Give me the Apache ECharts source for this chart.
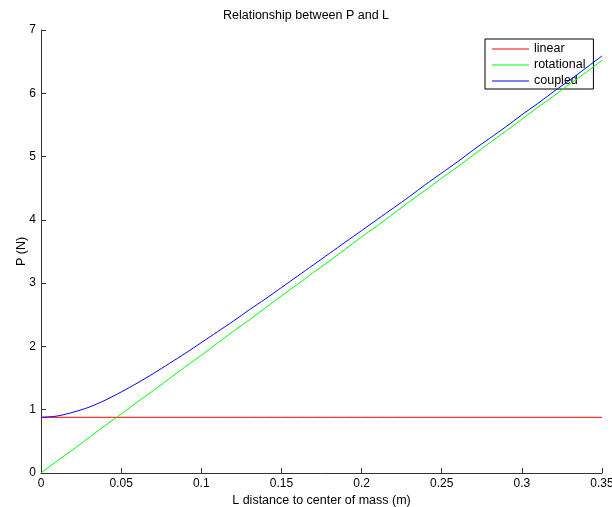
<!DOCTYPE html>
<html>
<head>
<meta charset="utf-8">
<script src="https://cdn.jsdelivr.net/npm/echarts@6/dist/echarts.min.js"></script>
<style>html,body{margin:0;padding:0;background:#fff}#c{width:612px;height:507px}</style>
</head>
<body>
<div id="c"></div>
<script>
const lValues = [0,0.01,0.02,0.03,0.04,0.05,0.06,0.07,0.08,0.09,0.10,0.11,0.12,0.13,0.14,0.15,0.16,0.17,0.18,0.19,0.20,0.21,0.22,0.23,0.24,0.25,0.26,0.27,0.28,0.29,0.30,0.31,0.32,0.33,0.34,0.35];
const linear = [0.88,0.88,0.88,0.88,0.88,0.88,0.88,0.88,0.88,0.88,0.88,0.88,0.88,0.88,0.88,0.88,0.88,0.88,0.88,0.88,0.88,0.88,0.88,0.88,0.88,0.88,0.88,0.88,0.88,0.88,0.88,0.88,0.88,0.88,0.88,0.88];
const rotational = [0,0.19,0.37,0.56,0.75,0.93,1.12,1.30,1.49,1.68,1.86,2.05,2.24,2.42,2.61,2.80,2.98,3.17,3.35,3.54,3.73,3.91,4.10,4.29,4.47,4.66,4.84,5.03,5.22,5.40,5.59,5.78,5.96,6.15,6.33,6.52];
const coupled = [0.88,0.90,0.96,1.04,1.15,1.28,1.42,1.57,1.73,1.89,2.06,2.23,2.40,2.58,2.75,2.93,3.11,3.29,3.47,3.65,3.83,4.01,4.19,4.37,4.56,4.74,4.92,5.11,5.29,5.47,5.66,5.84,6.03,6.21,6.40,6.59];
const seriesNames = ['linear','rotational','coupled'];
const xTicks = {min:0, max:0.35, step:0.05};
const yTicks = {min:0, max:7, step:1};

const font = 'Liberation Sans, Arial, Helvetica, sans-serif';
const pairs = arr => lValues.map((x,i)=>[x,arr[i]]);
const chart = echarts.init(document.getElementById('c'), null, {renderer:'canvas'});
const axisLine = {show:true,lineStyle:{color:'#333',width:1}};
const axisTick = {show:true,inside:true,length:5,lineStyle:{color:'#333'}};
chart.setOption({
  animation:false,
  backgroundColor:'#fff',
  title:{text:'Relationship between P and L',left:'center',top:4,
    textStyle:{fontFamily:font,fontSize:12.5,fontWeight:'normal',color:'#000'}},
  grid:{left:41,right:10,top:30,bottom:34,containLabel:false,outerBoundsMode:'none'},
  legend:{data:seriesNames,orient:'vertical',left:485,top:39,
    width:105,padding:[3,8,1,7],itemGap:2,itemWidth:37,itemHeight:1,
    icon:'rect',
    borderColor:'#000',borderWidth:1,backgroundColor:'#fff',
    textStyle:{fontFamily:font,fontSize:12.5,color:'#000',lineHeight:14,padding:[0,0,0,0]}},
  xAxis:{type:'value',min:xTicks.min,max:xTicks.max,interval:xTicks.step,
    name:'L distance to center of mass (m)',nameLocation:'middle',nameGap:21,nameMoveOverlap:false,
    nameTextStyle:{fontFamily:font,fontSize:12.5,color:'#000'},
    axisLine:axisLine,axisTick:axisTick,splitLine:{show:false},
    axisLabel:{color:'#000',fontFamily:font,fontSize:12,margin:5,
      formatter:v=>String(parseFloat(v.toFixed(4)))}},
  yAxis:{type:'value',min:yTicks.min,max:yTicks.max,interval:yTicks.step,
    name:'P (N)',nameLocation:'middle',nameGap:13,nameMoveOverlap:false,
    nameTextStyle:{fontFamily:font,fontSize:12.5,color:'#000'},
    axisLine:axisLine,axisTick:axisTick,splitLine:{show:false},
    axisLabel:{color:'#000',fontFamily:font,fontSize:12,margin:5}},
  series:[
    {name:seriesNames[0],type:'line',data:pairs(linear),showSymbol:false,symbol:'none',
      lineStyle:{color:'#ff0000',width:1},itemStyle:{color:'#ff0000'},z:3},
    {name:seriesNames[1],type:'line',data:pairs(rotational),showSymbol:false,symbol:'none',
      lineStyle:{color:'#00ff00',width:1},itemStyle:{color:'#00ff00'},z:4},
    {name:seriesNames[2],type:'line',data:pairs(coupled),showSymbol:false,symbol:'none',smooth:0.3,
      lineStyle:{color:'#0000ff',width:1},itemStyle:{color:'#0000ff'},z:5}
  ]
});
</script>
</body>
</html>
